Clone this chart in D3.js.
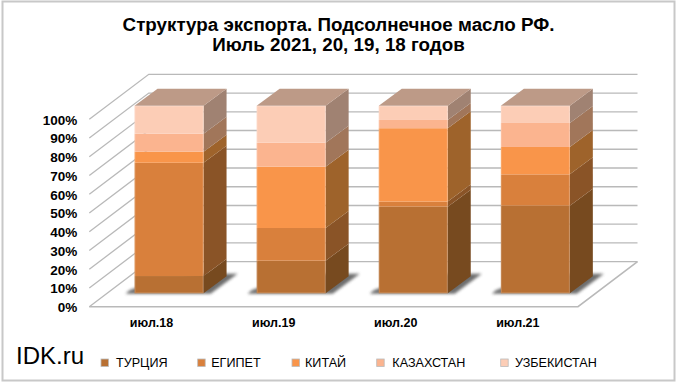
<!DOCTYPE html>
<html lang="ru">
<head>
  <meta charset="UTF-8">
  <title>Структура экспорта</title>
  <style>
    * { margin: 0; padding: 0; }
    body { background: #fff; }
    svg { display: block; font-family: "Liberation Sans", Arial, sans-serif; }
  </style>
</head>
<body>
  <script src="https://d3js.org/d3.v7.min.js"></script>
  <script>
    const categories = ['июл.18', 'июл.19', 'июл.20', 'июл.21'];
    const seriesNames = ['ТУРЦИЯ', 'ЕГИПЕТ', 'КИТАЙ', 'КАЗАХСТАН', 'УЗБЕКИСТАН'];
    const turkey = [9.2, 17.4, 46.2, 46.7];
    const egypt = [60.4, 17.4, 2.7, 16.7];
    const china = [5.9, 32.7, 39.1, 14.6];
    const kazakhstan = [9.6, 12.8, 4.4, 12.8];
    const uzbekistan = [14.9, 19.7, 7.6, 9.2];
    const yTicks = [0, 10, 20, 30, 40, 50, 60, 70, 80, 90, 100];
    const titleLines = ['Структура экспорта. Подсолнечное масло РФ.', 'Июль 2021, 20, 19, 18 годов'];

    const frontColors = ['#b87033', '#d9803c', '#f9954a', '#fbb48f', '#fccdb6'];
    const sideColors = ['#774a1f', '#8a5427', '#9e632b', '#a1765a', '#a08272'];
    const topColor = '#bd9a87';
    const gridColor = '#b9b9b9';

    const width = 680, height = 385;
    const depth = { x: 23, y: 17 };     // bar depth
    const wall = { x: 59.5, y: 45 };    // floor depth

    const svg = d3.select('body').append('svg')
      .attr('width', width)
      .attr('height', height);

    const defs = svg.append('defs');
    defs.append('filter').attr('id', 'blur')
      .attr('filterUnits', 'userSpaceOnUse')
      .attr('x', 0).attr('y', 0).attr('width', width).attr('height', height)
      .append('feGaussianBlur').attr('stdDeviation', 1.5);

    // frame
    svg.append('rect')
      .attr('x', 2.5).attr('y', 1.5)
      .attr('width', 672).attr('height', 379)
      .attr('fill', '#fff')
      .attr('stroke', '#c8c8c8')
      .attr('stroke-width', 2);

    // title
    svg.append('g').selectAll('text')
      .data(titleLines)
      .join('text')
      .attr('x', 338.5)
      .attr('y', (d, i) => 31 + i * 20)
      .attr('text-anchor', 'middle')
      .attr('font-size', 18.8)
      .attr('font-weight', 'bold')
      .attr('fill', '#000')
      .text(d => d);

    // scales
    const axisY = d3.scaleLinear().domain([0, 100]).range([306.7, 119.3]);
    const barY = d3.scaleLinear().domain([0, 100]).range([293.3, 105.7]);
    const x = d3.scaleBand()
      .domain(categories)
      .range([108, 596.4])
      .paddingInner(0.435)
      .paddingOuter(0.2175);

    const floorLeft = 89.3, floorRight = 578;

    // walls and gridlines
    const grid = svg.append('g')
      .attr('fill', 'none')
      .attr('stroke', gridColor)
      .attr('stroke-width', 1.3);

    grid.selectAll('path')
      .data(yTicks)
      .join('path')
      .attr('d', d => {
        const y0 = axisY(d);
        const p = d3.path();
        p.moveTo(floorLeft, y0);
        p.lineTo(floorLeft + wall.x, y0 - wall.y);
        p.lineTo(floorRight + wall.x, y0 - wall.y);
        return p.toString();
      });

    // floor outline
    const floor = d3.path();
    floor.moveTo(floorLeft, axisY(0));
    floor.lineTo(floorRight, axisY(0));
    floor.lineTo(floorRight + wall.x, axisY(0) - wall.y);
    grid.append('path').attr('d', floor.toString()).attr('stroke-width', 1.6);

    // stacked data
    const rows = categories.map((c, i) => ({
      category: c,
      [seriesNames[0]]: turkey[i],
      [seriesNames[1]]: egypt[i],
      [seriesNames[2]]: china[i],
      [seriesNames[3]]: kazakhstan[i],
      [seriesNames[4]]: uzbekistan[i],
    }));
    const stacked = d3.stack().keys(seriesNames)(rows);

    // shadows on the floor
    svg.append('g').selectAll('path')
      .data(categories)
      .join('path')
      .attr('d', c => {
        const x0 = x(c), x1 = x0 + x.bandwidth(), y0 = barY(0);
        return `M${x0 - 9},${y0 + 0.5}L${x1 + 7},${y0 + 0.5}L${x1 + 34},${y0 - 19.5}L${x1},${y0 - 19.5}L${x0},${y0 - 5}L${x0 - 5},${y0 - 3}Z`;
      })
      .attr('fill', '#555')
      .attr('opacity', 0.85)
      .attr('filter', 'url(#blur)');

    // bars
    const bars = svg.append('g');
    categories.forEach((c, i) => {
      const x0 = x(c), x1 = x0 + x.bandwidth();
      const g = bars.append('g');

      stacked.forEach((s, k) => {
        const yb = barY(s[i][0]), yt = barY(s[i][1]);
        g.append('path')
          .attr('d', `M${x1},${yb}L${x1 + depth.x},${yb - depth.y}L${x1 + depth.x},${yt - depth.y}L${x1},${yt}Z`)
          .attr('fill', sideColors[k]);
        g.append('rect')
          .attr('x', x0).attr('y', yt)
          .attr('width', x.bandwidth()).attr('height', yb - yt)
          .attr('fill', frontColors[k]);
      });

      // top face
      const yTop = barY(100);
      g.append('path')
        .attr('d', `M${x0},${yTop}L${x0 + depth.x},${yTop - depth.y}L${x1 + depth.x},${yTop - depth.y}L${x1},${yTop}Z`)
        .attr('fill', topColor);

      // soft light edge of the front face
      g.append('rect')
        .attr('x', x0 + 0.5).attr('y', yTop + 0.5)
        .attr('width', x.bandwidth() - 1).attr('height', barY(0) - yTop - 1)
        .attr('fill', 'none')
        .attr('stroke', '#fff')
        .attr('stroke-opacity', 0.18);
    });

    // y axis labels
    const yAxis = d3.axisLeft(axisY)
      .tickValues(yTicks)
      .tickSize(0)
      .tickPadding(12)
      .tickFormat(d => d + '%');
    const yG = svg.append('g')
      .attr('transform', `translate(${floorLeft},0.5)`)
      .call(yAxis);
    yG.select('.domain').remove();
    yG.selectAll('text')
      .attr('font-family', 'inherit')
      .attr('font-size', 13.5)
      .attr('font-weight', 'bold')
      .attr('fill', '#000');

    // x axis labels
    const xAxis = d3.axisBottom(x).tickSize(0).tickPadding(0);
    const xG = svg.append('g')
      .attr('transform', 'translate(-17.5,318.5)')
      .call(xAxis);
    xG.select('.domain').remove();
    xG.selectAll('text')
      .attr('font-family', 'inherit')
      .attr('font-size', 12.5)
      .attr('font-weight', 'bold')
      .attr('fill', '#000');

    // watermark
    svg.append('text')
      .attr('x', 16).attr('y', 364)
      .attr('font-size', 24)
      .attr('fill', '#000')
      .text('IDK.ru');

    // legend
    const legendPos = [101, 197.7, 292, 376.7, 500.7];
    const legendTextOffset = [15, 13.5, 13, 15.6, 14.3];
    const legend = svg.append('g').selectAll('g')
      .data(seriesNames)
      .join('g')
      .attr('transform', (d, i) => `translate(${legendPos[i]},362.5)`);
    legend.append('rect')
      .attr('x', 0).attr('y', -3.5)
      .attr('width', 7.5).attr('height', 7.5)
      .attr('fill', (d, i) => frontColors[i])
      .attr('stroke', '#bbb')
      .attr('stroke-width', 0.8);
    legend.append('text')
      .attr('x', (d, i) => legendTextOffset[i]).attr('y', 4.5)
      .attr('font-size', 12.6)
      .attr('fill', '#000')
      .text(d => d);
  </script>
</body>
</html>
